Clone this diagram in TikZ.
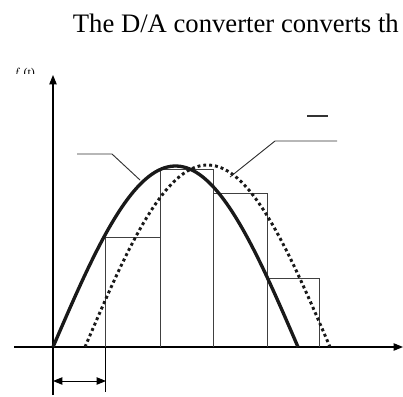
\documentclass[tikz,border=0pt]{standalone}
\usepackage{fontspec}
\setmainfont{Liberation Serif}
\usetikzlibrary{arrows.meta}

\begin{document}
\begin{tikzpicture}[x=0.75pt,y=-0.75pt]
	\useasboundingbox (0,0) rectangle (403,396);
	\newcommand\base{347};
	\node[anchor=base east, inner sep=0, font=\fontsize{20}{24}\selectfont] (title) at (399,32) {The D/A converter converts th};
	\begin{scope}
		\clip (8,67.5) rectangle (50,73.5);
		\node[anchor=base west, inner sep=0, font=\fontsize{9}{10}\selectfont] (flabel) at (13,76) {$f$ (t)};
	\end{scope}
	\draw[line width=0.8pt, -{Triangle[length=7pt,width=5.5pt]}] (53,395) -- (53,75);
	\draw[line width=0.8pt, -{Triangle[length=7pt,width=5.5pt]}] (14,\base) -- (403,\base);
	\draw[line width=0.7pt] (105,\base) -- (105,392);
	\foreach \x/\h in {105/237,160/169,213/169,267/193,319/278} {
		\draw[black!75, line width=0.7pt] (\x,\base) -- (\x,\h);
	}
	\foreach \a/\b/\h in {105/160/237,160/213/169,213/267/193,267/319/278} {
		\draw[black!75, line width=0.7pt] (\a,\h) -- (\b,\h);
	}
	\draw[line width=2.5pt, black!90] plot[domain=0:180, samples=80] ({53+1.3611*\x}, {\base-181*sin(\x)});
	\draw[line width=2.2pt, dash pattern=on 2.2pt off 2.2pt, black!90] plot[domain=0:180, samples=80] ({85+1.3611*\x}, {\base-182*sin(\x)});
	\draw[line width=0.7pt, black!80] (77,154) -- (112,154) -- (140,180);
	\draw[line width=0.7pt, black!80] (230,177) -- (275,141) -- (337,141);
	\draw[line width=1.1pt, black!80] (307,116) -- (328,116);
	\draw[line width=0.7pt, {Triangle[length=7pt,width=5.5pt]}-{Triangle[length=7pt,width=5.5pt]}] (53,381) -- (106,381);
\end{tikzpicture}
\end{document}
